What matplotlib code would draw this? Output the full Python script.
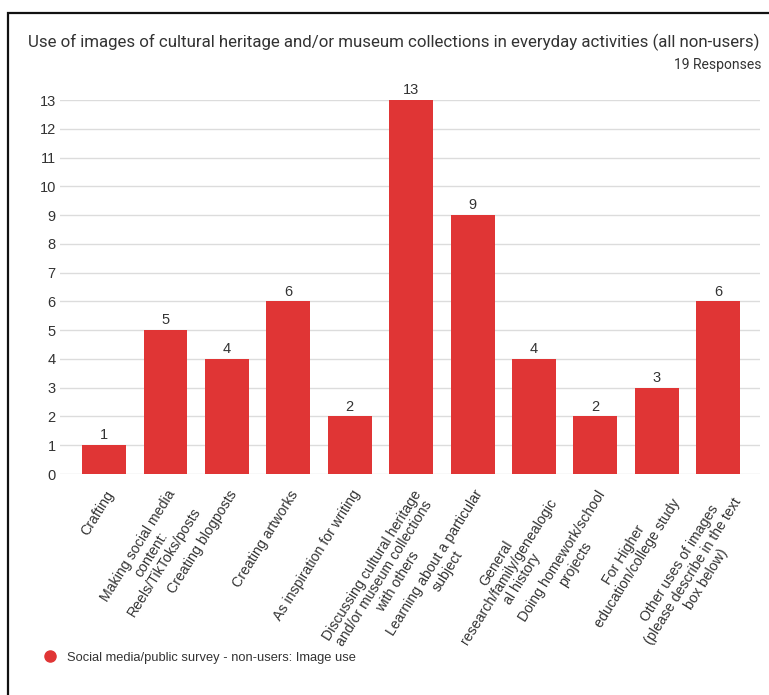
import matplotlib
matplotlib.use("Agg")
import matplotlib.pyplot as plt
import matplotlib.transforms as mtransforms
from matplotlib.lines import Line2D
from matplotlib.patches import Rectangle
from matplotlib import font_manager

categories = [
    "Crafting",
    "Making social media\ncontent:\nReels/TikToks/posts",
    "Creating blogposts",
    "Creating artworks",
    "As inspiration for writing",
    "Discussing cultural heritage\nand/or museum collections\nwith others",
    "Learning about a particular\nsubject",
    "General\nresearch/family/genealogic\nal history",
    "Doing homework/school\nprojects",
    "For Higher\neducation/college study",
    "Other uses of images\n(please describe in the text\nbox below)",
]
counts = [1, 5, 4, 6, 2, 13, 9, 4, 2, 3, 6]
y_ticks = list(range(0, 14))

title = "Use of images of cultural heritage and/or museum collections in everyday activities (all non-users)"
subtitle = "19 Responses"
series_name = "Social media/public survey - non-users: Image use"

RED = "#e03535"
TEXT = "#333333"
GRID = "#dcdcdc"

names = {f.name for f in font_manager.fontManager.ttflist}
narrow = "Liberation Sans Narrow" if "Liberation Sans Narrow" in names else "Roboto"
plt.rcParams["font.family"] = ["Liberation Sans", "DejaVu Sans"]

W, H = 769, 695
fig = plt.figure(figsize=(W / 100, H / 100), dpi=100)
ax = fig.add_axes([60 / W, (H - 474) / H, 700 / W, 374 / H])

x = list(range(len(categories)))
bars = ax.bar(x, counts, width=0.715, color=RED, zorder=2)
ax.bar_label(bars, padding=2, fontsize=10.5, color=TEXT)

ax.set_ylim(0, 13)
ax.set_xlim(-0.717, 10.68)
ax.set_yticks(y_ticks)
ax.yaxis.grid(True, color=GRID, linewidth=1, zorder=0)
ax.tick_params(axis="both", length=0, labelsize=10.5, labelcolor=TEXT)
ax.tick_params(axis="y", pad=3)
for s in ax.spines.values():
    s.set_visible(False)

ax.set_xticks(x)
ax.set_xticklabels(categories, rotation=58, ha="right", va="top",
                   rotation_mode="anchor", multialignment="center",
                   fontsize=10.2, color=TEXT, linespacing=1.1)
shift = mtransforms.ScaledTranslation(1 / 100, -9 / 100, fig.dpi_scale_trans)
for lbl in ax.get_xticklabels():
    lbl.set_transform(lbl.get_transform() + shift)

fig.text(28 / W, 1 - 42 / H, title, fontsize=12.15, color=TEXT,
         family=[narrow, "DejaVu Sans"], va="center", ha="left")
fig.text(762 / W, 1 - 65 / H, subtitle, fontsize=10, color=TEXT,
         family=[narrow, "DejaVu Sans"], va="center", ha="right")

handle = Line2D([], [], marker="o", linestyle="none", color=RED, markersize=8)
fig.legend([handle], [series_name], loc="center left",
           bbox_to_anchor=(32 / W, 1 - 658 / H), frameon=False,
           handletextpad=0.3, fontsize=9.3, labelcolor=TEXT, borderaxespad=0)

# outer frame, open on the right and bottom
fig.patches.append(Rectangle((8 / W, -0.1), 1.2, 1 - 13 / H + 0.1,
                             transform=fig.transFigure, fill=False,
                             edgecolor="#111111", linewidth=1.6))

fig.savefig("out.png", dpi=100)
